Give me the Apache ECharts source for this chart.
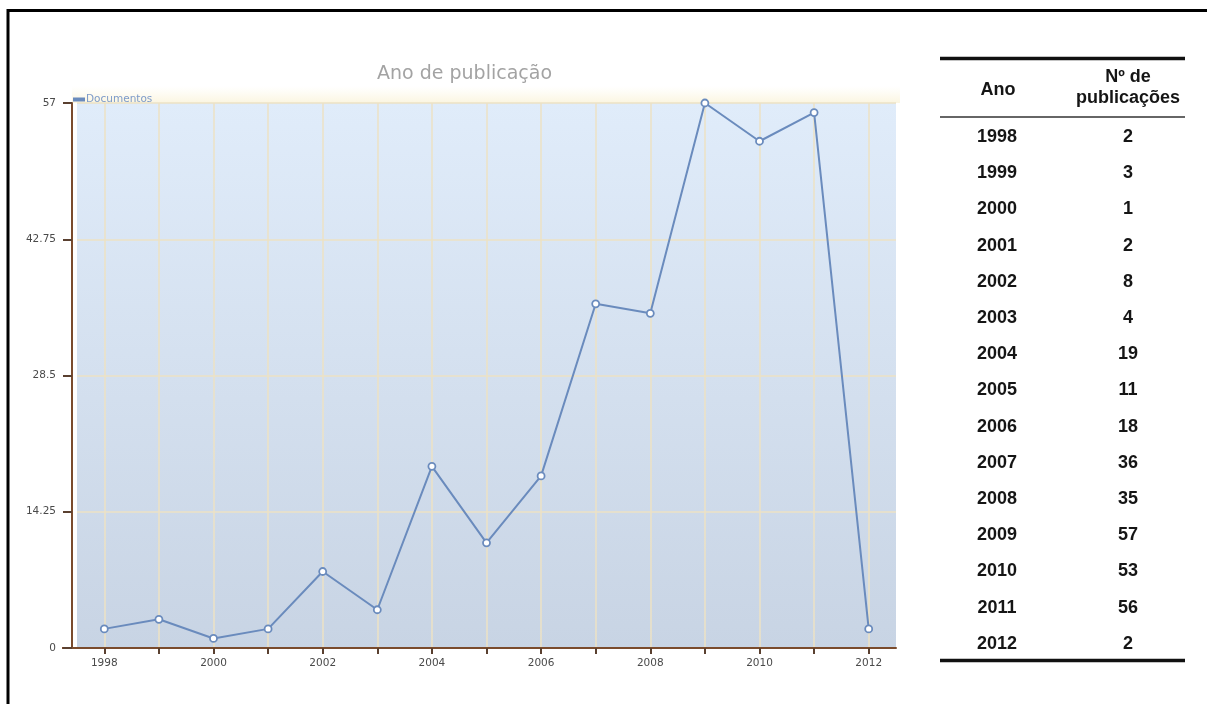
<!DOCTYPE html>
<html>
<head>
<meta charset="utf-8">
<script src="https://cdn.jsdelivr.net/npm/echarts@6/dist/echarts.min.js"></script>
<style>
html,body{margin:0;padding:0;background:#fff;}
#c{width:1207px;height:704px;}
</style>
</head>
<body>
<div id="c"></div>
<script>
const years = ['1998','1999','2000','2001','2002','2003','2004','2005','2006','2007','2008','2009','2010','2011','2012'];
const documentos = [2,3,1,2,8,4,19,11,18,36,35,57,53,56,2];
const yTicks = [0, 14.25, 28.5, 42.75, 57];
const chartTitle = 'Ano de publicação';
const seriesName = 'Documentos';
const tableHeaderYear = 'Ano';
const tableHeaderCount = 'Nº de\npublicações';

const chart = echarts.init(document.getElementById('c'), null, {renderer: 'canvas'});

const tFont = {fontSize: 18, fontWeight: 'bold', fontFamily: '"Liberation Sans", Arial, sans-serif', fill: '#151515'};
const rowTop = 137, rowStep = 36.2;
const sans = '"DejaVu Sans", Verdana, sans-serif';
const graphics = [
  {type:'line', shape:{x1:8, y1:9, x2:8, y2:704}, style:{stroke:'#000', lineWidth:3}},
  {type:'line', shape:{x1:7, y1:10.5, x2:1207, y2:10.5}, style:{stroke:'#000', lineWidth:3}},
  {type:'rect', z:-1, shape:{x:72, y:86, width:828, height:17},
   style:{fill:new echarts.graphic.LinearGradient(0,0,0,1,[{offset:0,color:'rgba(253,249,232,0)'},{offset:1,color:'#fbf5e0'}])}},
  {type:'line', shape:{x1:62, y1:648, x2:78, y2:648}, style:{stroke:'#7a4b2d', lineWidth:2}},
  {type:'line', shape:{x1:940, y1:58.5, x2:1185, y2:58.5}, style:{stroke:'#111', lineWidth:3.5}},
  {type:'line', shape:{x1:940, y1:117, x2:1185, y2:117}, style:{stroke:'#333', lineWidth:1.3}},
  {type:'line', shape:{x1:940, y1:660.5, x2:1185, y2:660.5}, style:{stroke:'#111', lineWidth:3.5}},
  {type:'text', style:Object.assign({text:tableHeaderYear, x:998, y:90, align:'center', verticalAlign:'middle'}, tFont)},
  {type:'text', style:Object.assign({text:tableHeaderCount, x:1128, y:88, align:'center', verticalAlign:'middle', lineHeight:21}, tFont)}
];
years.forEach((y, i) => {
  graphics.push({type:'text', style:Object.assign({text:y, x:997, y:rowTop + i*rowStep, align:'center', verticalAlign:'middle'}, tFont)});
  graphics.push({type:'text', style:Object.assign({text:String(documentos[i]), x:1128, y:rowTop + i*rowStep, align:'center', verticalAlign:'middle'}, tFont)});
});

const option = {
  backgroundColor: '#fff',
  animation: false,
  title: {
    text: chartTitle, left: 372, top: 60,
    textStyle: {color:'#a3a3a3', fontSize:19, fontWeight:'normal', fontFamily:sans}
  },
  legend: {
    data: [seriesName], left: 68, top: 89, itemGap: 4,
    icon: 'rect', itemWidth: 10, itemHeight: 2,
    textStyle: {color:'#7d9bc9', fontSize:10.5, fontFamily:sans, padding:[0,0,0,-3]}
  },
  grid: {left: 77, right: 311, top: 103, bottom: 56, show: true, borderWidth: 0,
    backgroundColor: new echarts.graphic.LinearGradient(0,0,0,1,[{offset:0,color:'#e0ecfa'},{offset:1,color:'#c8d4e4'}])},
  xAxis: {
    type: 'category', data: years, boundaryGap: true,
    axisLine: {lineStyle: {color:'#7a4b2d', width:2}},
    axisTick: {show:true, alignWithLabel:true, interval:0, length:6, lineStyle:{color:'#5a4030', width:2}},
    axisLabel: {interval:1, color:'#4a4a4a', fontSize:10.5, margin:10, fontFamily:sans},
    splitLine: {show:true, interval:0, alignWithLabel:true, lineStyle:{color:'#ece2c4', width:1.5}}
  },
  yAxis: {
    type: 'value', min: 0, max: 57, interval: 14.25, offset: 5,
    axisLine: {show:true, lineStyle: {color:'#7a4b2d', width:2}},
    axisTick: {show:true, length:9, lineStyle:{color:'#5a4030', width:2}},
    axisLabel: {color:'#4a4a4a', fontSize:10.5, margin:16, fontFamily:sans,
      formatter: v => { const t = yTicks.find(x => Math.abs(x - v) < 1e-6); return t === undefined ? '' : String(t); }},
    splitLine: {show:true, lineStyle:{color:'#ece2c4', width:1.5}}
  },
  series: [{
    name: seriesName, type: 'line', data: documentos,
    symbol: 'circle', symbolSize: 7, showSymbol: true,
    lineStyle: {color:'#6a8bbd', width:2},
    itemStyle: {color:'#ffffff', borderColor:'#6a8bbd', borderWidth:1.8},
    color: '#6a8bbd'
  }],
  graphic: graphics
};
chart.setOption(option);
</script>
</body>
</html>
